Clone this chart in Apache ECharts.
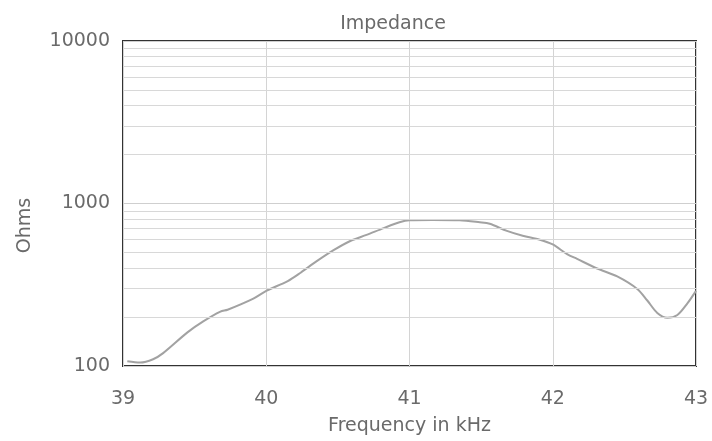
<!DOCTYPE html>
<html>
<head>
<meta charset="utf-8">
<script src="https://cdn.jsdelivr.net/npm/echarts@6/dist/echarts.min.js"></script>
<style>
html,body{margin:0;padding:0;background:#fff;}
#chart{width:712px;height:441px;}
</style>
</head>
<body>
<div id="chart"></div>
<script>
// Data
var frequencyKHz = [39.03, 39.12, 39.21, 39.28, 39.45, 39.56, 39.68, 39.73, 39.91, 40.0, 40.15, 40.24, 40.35, 40.47, 40.59, 40.70, 40.82, 40.93, 41.0, 41.16, 41.35, 41.49, 41.56, 41.68, 41.79, 41.91, 42.0, 42.1, 42.17, 42.31, 42.45, 42.59, 42.66, 42.73, 42.8, 42.87, 42.94, 43.0];
var impedanceOhms = [107, 105, 110, 120, 161, 188, 216, 222, 260, 290, 333, 375, 440, 516, 590, 641, 706, 766, 788, 791, 788, 766, 750, 678, 633, 599, 560, 488, 456, 398, 356, 298, 253, 212, 198, 206, 243, 290];
var xTicks = [39, 40, 41, 42, 43];
var yTicks = [100, 1000, 10000];
var minorGridValues = [200, 300, 400, 500, 600, 700, 800, 900, 2000, 3000, 4000, 5000, 6000, 7000, 8000, 9000];

var textColor = '#6a6a6a';
var fontFamily = 'DejaVu Sans';

var chart = echarts.init(document.getElementById('chart'), null, {renderer: 'canvas'});
var seriesData = frequencyKHz.map(function (f, i) { return [f, impedanceOhms[i]]; });

chart.setOption({
  animation: false,
  backgroundColor: '#ffffff',
  title: {
    text: 'Impedance',
    left: 388,
    top: 10,
    textAlign: 'center',
    textStyle: {fontFamily: fontFamily, fontSize: 19, fontWeight: 'normal', color: textColor}
  },
  grid: {
    left: 123, right: 16, top: 41, bottom: 63,
    show: true, borderColor: '#333333', borderWidth: 2, backgroundColor: 'transparent'
  },
  xAxis: {
    type: 'value',
    min: xTicks[0], max: xTicks[xTicks.length - 1], interval: 1,
    name: 'Frequency in kHz',
    nameLocation: 'middle',
    nameGap: 51,
    nameTextStyle: {fontFamily: fontFamily, fontSize: 19, color: textColor},
    axisLine: {show: false},
    axisTick: {show: false},
    axisLabel: {fontFamily: fontFamily, fontSize: 19, color: textColor, margin: 24,
      formatter: function (v) { return String(v); }},
    splitLine: {show: true, lineStyle: {color: '#d4d4d4', width: 1}}
  },
  yAxis: {
    type: 'log',
    logBase: 10,
    min: yTicks[0], max: yTicks[yTicks.length - 1],
    name: 'Ohms',
    nameLocation: 'middle',
    nameGap: 88,
    nameRotate: 90,
    nameTextStyle: {fontFamily: fontFamily, fontSize: 19, color: textColor, padding: [0, 44, 0, 0]},
    axisLine: {show: false},
    axisTick: {show: false},
    axisLabel: {fontFamily: fontFamily, fontSize: 19, color: textColor, margin: 13,
      formatter: function (v) { return String(Math.round(v)); }},
    splitLine: {show: true, lineStyle: {color: '#cfcfcf', width: 1}}
  },
  series: [{
    type: 'line',
    data: seriesData,
    smooth: 0.3,
    showSymbol: false,
    lineStyle: {color: '#a2a2a2', width: 2},
    markLine: {
      silent: true,
      symbol: ['none', 'none'],
      label: {show: false},
      lineStyle: {color: '#d8d8d8', width: 1, type: 'solid'},
      data: minorGridValues.map(function (v) { return {yAxis: v}; })
    },
    z: 3
  }]
});
</script>
</body>
</html>
